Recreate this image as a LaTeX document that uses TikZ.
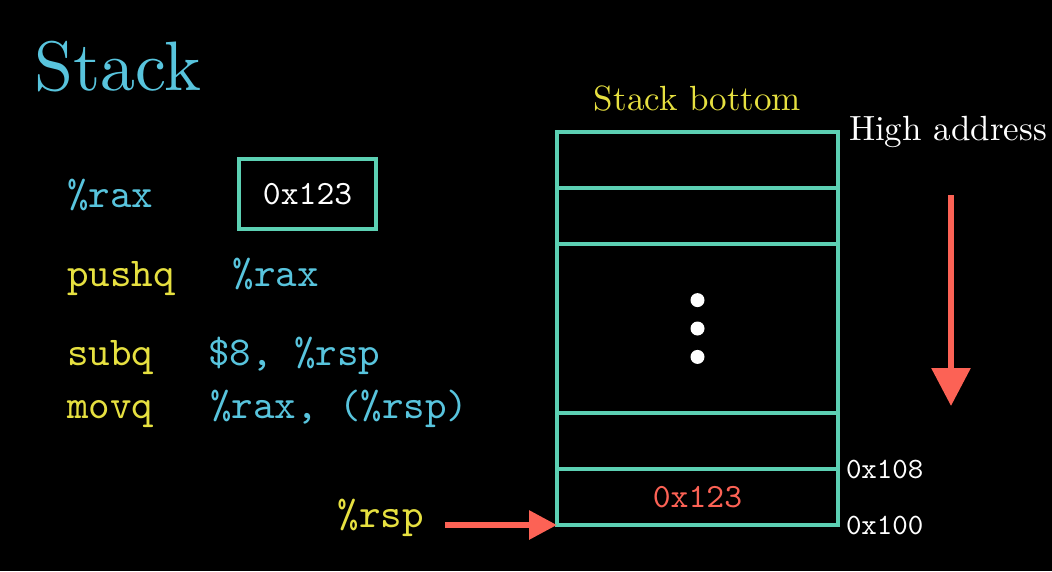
\documentclass[tikz,border=0pt]{standalone}
\usepackage{fontspec}
\setmainfont{lmroman10-regular.otf}
\setmonofont{lmmono10-regular.otf}
\usepackage{tikz}
\usetikzlibrary{arrows.meta,positioning,calc}
\definecolor{stackblue}{HTML}{58C4DD}
\definecolor{stackyellow}{HTML}{E6E040}
\definecolor{stackteal}{HTML}{5CD0B3}
\definecolor{stackred}{HTML}{FC6255}

\begin{document}
\begin{tikzpicture}[x=1pt, y=-1pt,
    code/.style={font=\ttfamily\fontsize{41}{41}\selectfont, inner sep=0pt, outer sep=0pt},
    instr/.style={code, text=stackyellow},
    operand/.style={code, text=stackblue},
    addr/.style={font=\ttfamily\fontsize{29.5}{29.5}\selectfont, text=white, inner sep=0pt, outer sep=0pt},
    caption/.style={font=\fontsize{35}{35}\selectfont, inner sep=0pt, outer sep=0pt},
    cell/.style={draw=stackteal, line width=4pt, minimum width=281pt, inner sep=0pt, outer sep=0pt},
    ptrarrow/.style={draw=stackred, line width=6pt, -{Triangle[width=28pt,length=28pt]}},
    growarrow/.style={draw=stackred, line width=6pt, -{Triangle[width=38pt,length=38pt]}},
    dot/.style={circle, fill=white, minimum size=14pt, inner sep=0pt}]
    \fill[black] (0,0) rectangle (1052,571);
    \useasboundingbox (0,0) rectangle (1052,571);
    % left column
    \node[font=\fontsize{70}{70}\selectfont, text=stackblue, inner sep=0pt, anchor=base west] (title) at (34,90) {Stack};
    \node[operand, anchor=base west] (raxlbl) at (67,207) {\%rax};
    \node[draw=stackteal, line width=4pt, minimum width=137pt, minimum height=70pt, inner sep=0pt,
          font=\ttfamily\fontsize{34}{34}\selectfont, text=white, right=84pt of raxlbl] (raxbox) {0x123};
    \node[instr, anchor=base west] (pushq) at (67,286) {pushq};
    \node[operand, base right=58pt of pushq] (pushop) {\%rax};
    \node[instr, anchor=base west] (subq) at (67,365) {subq};
    \node[operand, base right=55pt of subq] (subop) {\$8, \%rsp};
    \node[instr, anchor=base west] (movq) at (67,418) {movq};
    \node[operand, base right=57pt of movq] (movop) {\%rax, (\%rsp)};
    % stack cells
    \node[cell, minimum height=56pt] (cell1) at (697.5,160) {};
    \node[cell, minimum height=56pt, below=0pt of cell1] (cell2) {};
    \node[cell, minimum height=169pt, below=0pt of cell2] (cell3) {};
    \node[cell, minimum height=56pt, below=0pt of cell3] (cell4) {};
    \node[cell, minimum height=56pt, below=0pt of cell4, font=\ttfamily\fontsize{34}{34}\selectfont, text=stackred] (cell5) {0x123};
    \node[dot] (dot2) at (cell3.center) {};
    \node[dot, above=14pt of dot2] (dot1) {};
    \node[dot, below=14pt of dot2] (dot3) {};
    \node[caption, text=stackyellow, above=21pt of cell1] (bottomlbl) {Stack bottom};
    \node[caption, text=white, anchor=base west] (highlbl) at ([xshift=11pt,yshift=-8pt]cell1.north east) {High address};
    \node[addr, anchor=base west] (addr108) at ([xshift=8pt,yshift=-9pt]cell5.north east) {0x108};
    \node[addr, anchor=base west] (addr100) at ([xshift=8pt,yshift=-9pt]cell5.south east) {0x100};
    % pointers
    \node[instr, anchor=mid east] (rsplbl) at ([xshift=-133pt]cell5.south west) {\%rsp};
    \draw[ptrarrow] ([xshift=21pt]rsplbl.mid east |- cell5.south west) -- (cell5.south west);
    \coordinate (growtop) at (951,195);
    \coordinate (growend) at (951,406);
    \draw[growarrow] (growtop) -- (growend);
  \end{tikzpicture}
\end{document}
